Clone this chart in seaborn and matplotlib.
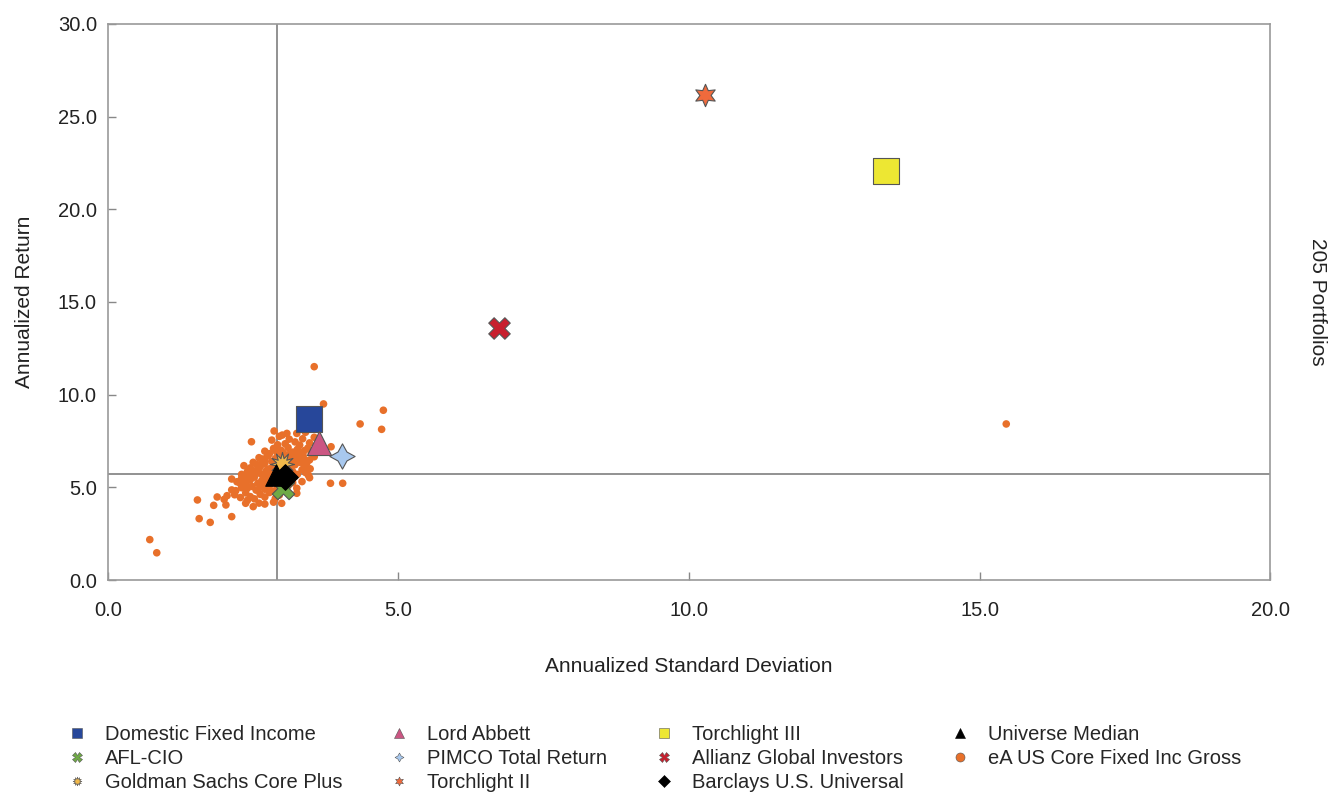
import matplotlib
matplotlib.use('Agg')
import matplotlib.pyplot as plt
from matplotlib.lines import Line2D
import seaborn as sns
import pandas as pd

sns.set_theme(style="white")
plt.rcParams['font.family'] = ['Liberation Sans', 'DejaVu Sans']

# eA US Core Fixed Inc Gross universe (annualized std dev, annualized return)
universe_sd = [
    2.86, 3.00, 3.08, 3.25, 3.40, 2.95,
    2.47, 2.82, 3.12, 3.22, 3.35, 3.47, 3.05, 2.92, 3.30, 3.55,
    2.70, 2.85, 2.98, 3.10, 3.18, 3.26, 3.38, 3.50, 3.60, 3.84, 2.78, 3.02, 3.32, 3.44, 2.90,
    2.60, 2.67, 2.75, 2.88, 2.95, 3.05, 3.15, 3.22, 3.30, 3.40, 3.47, 3.55, 2.82, 3.12, 3.36, 2.70, 3.00, 3.25,
    2.34, 2.45, 2.55, 2.62, 2.70, 2.78, 2.85, 2.92, 3.00, 3.08, 3.15, 3.22, 3.30, 3.38, 3.48, 2.50, 2.65, 3.18, 2.95, 3.42, 2.58,
    2.30, 2.40, 2.48, 2.55, 2.62, 2.68, 2.74, 2.80, 2.88, 2.96, 3.04, 3.10, 3.18, 3.26, 3.34, 3.45, 2.52, 2.84, 3.22, 2.36, 3.40,
    2.13, 2.22, 2.30, 2.38, 2.45, 2.52, 2.58, 2.65, 2.72, 2.80, 2.88, 2.95, 3.02, 3.10, 3.18, 3.34, 3.47, 3.83, 4.04, 2.42, 2.75, 3.05, 2.28,
    2.13, 2.20, 2.34, 2.40, 2.48, 2.55, 2.62, 2.70, 2.78, 2.85, 2.92, 3.00, 3.10, 3.25, 2.30, 2.66,
    2.05, 2.18, 2.28, 2.37, 2.45, 2.52, 2.62, 2.70, 2.78, 2.88, 2.95, 3.25, 1.54, 1.88, 2.00, 2.40,
    2.37, 2.50, 2.70, 2.99, 1.82, 2.03, 2.60, 2.85, 1.57, 1.76, 2.13, 0.72, 0.84,
    3.55, 3.71, 4.74, 4.71, 4.34, 15.46,
    2.88, 2.92, 2.98, 3.02, 3.08, 2.86, 2.94, 3.00, 3.06, 3.12, 2.82, 2.76, 3.14, 2.90, 3.04, 2.98, 3.10, 2.84, 2.72, 3.16,
]
universe_ret = [
    8.04, 7.82, 7.91, 7.91, 7.97, 7.75,
    7.46, 7.55, 7.60, 7.45, 7.62, 7.40, 7.35, 7.30, 7.28, 7.70,
    6.95, 7.10, 7.00, 7.15, 6.90, 7.05, 6.98, 6.85, 7.10, 7.19, 6.82, 6.85, 6.80, 7.12, 6.92,
    6.60, 6.53, 6.70, 6.55, 6.45, 6.65, 6.50, 6.72, 6.58, 6.45, 6.48, 6.65, 6.40, 6.78, 6.70, 6.45, 6.75, 6.42,
    6.17, 6.05, 6.25, 6.10, 6.30, 6.00, 6.20, 6.35, 6.10, 6.28, 6.05, 6.22, 6.35, 6.12, 6.00, 6.35, 6.38, 6.38, 6.02, 6.30, 6.00,
    5.70, 5.85, 5.65, 5.90, 5.75, 5.60, 5.95, 5.80, 5.65, 5.92, 5.75, 5.62, 5.85, 5.70, 5.95, 5.65, 5.78, 5.98, 5.60, 5.62, 5.80,
    5.45, 5.30, 5.50, 5.25, 5.40, 5.55, 5.22, 5.38, 5.50, 5.28, 5.45, 5.20, 5.35, 5.50, 5.25, 5.31, 5.52, 5.22, 5.22, 5.58, 5.20, 5.55, 5.20,
    4.86, 4.82, 5.13, 4.95, 5.05, 4.85, 5.00, 4.90, 5.10, 4.80, 5.02, 4.88, 5.08, 4.95, 4.98, 5.15,
    4.55, 4.60, 4.45, 4.70, 4.50, 4.38, 4.62, 4.48, 4.72, 4.40, 4.58, 4.68, 4.32, 4.48, 4.35, 4.30,
    4.14, 3.96, 4.10, 4.14, 4.03, 4.05, 4.15, 4.20, 3.31, 3.11, 3.42, 2.18, 1.47,
    11.51, 9.50, 9.16, 8.13, 8.42, 8.42,
    5.85, 5.72, 5.60, 5.90, 5.80, 5.55, 5.48, 5.40, 5.68, 5.95, 5.68, 5.45, 6.15, 6.12, 6.22, 5.30, 5.38, 6.08, 5.85, 5.72,
]

# managers / benchmarks
names = ["Domestic Fixed Income", "AFL-CIO", "Goldman Sachs Core Plus",
         "Lord Abbett", "PIMCO Total Return", "Torchlight II",
         "Torchlight III", "Allianz Global Investors", "Barclays U.S. Universal",
         "Universe Median"]
mgr_sd = [3.46, 3.01, 2.99, 3.64, 4.03, 10.28, 13.39, 6.73, 3.05, 2.90]
mgr_ret = [8.67, 4.95, 6.24, 7.41, 6.69, 26.18, 22.07, 13.61, 5.58, 5.67]
mgr_colors = ["#27479A", "#6FAA45", "#F2B94A", "#CB5683", "#A8C8EE", "#F06A3C",
              "#EDE733", "#C8202F", "#000000", "#000000"]
mgr_markers = ["s", "X", (12, 1, 0), "^", (4, 1, 0), (6, 1, 0), "s", "X", "D", "^"]
mgr_sizes = [330, 260, 300, 300, 330, 260, 330, 240, 170, 240]

median_sd = 2.91
median_ret = 5.72
dot_color = "#E8702A"

fig = plt.figure(figsize=(13.31, 7.94), dpi=100)
ax = fig.add_axes([0.0811, 0.2695, 0.8731, 0.7003])

ax.axvline(median_sd, color="#7f7f7f", lw=1.2, zorder=1)
ax.axhline(median_ret, color="#7f7f7f", lw=1.2, zorder=1)

uni = pd.DataFrame({"sd": universe_sd, "ret": universe_ret})
sns.scatterplot(data=uni, x="sd", y="ret", ax=ax, color=dot_color, s=30,
                edgecolor="none", zorder=2)

# draw order so small marks stay visible in the cluster
draw_order = [0, 3, 4, 5, 6, 7, 1, 9, 8, 2]
for i in draw_order:
    sns.scatterplot(x=[mgr_sd[i]], y=[mgr_ret[i]], ax=ax, marker=mgr_markers[i],
                    color=mgr_colors[i], s=mgr_sizes[i],
                    edgecolor="#555555" if mgr_colors[i] != "#000000" else "#000000",
                    linewidth=0.8, zorder=3 + i * 0.01)

ax.set_xlim(0, 20)
ax.set_ylim(0, 30)
ax.set_xticks([0, 5, 10, 15, 20])
ax.set_yticks([0, 5, 10, 15, 20, 25, 30])
ax.set_xticklabels([f"{v:.1f}" for v in [0, 5, 10, 15, 20]])
ax.set_yticklabels([f"{v:.1f}" for v in [0, 5, 10, 15, 20, 25, 30]])
ax.tick_params(axis="both", direction="in", length=6, width=1, color="#888888",
               labelsize=14.5, colors="#222222", pad=8, left=True, bottom=True)
ax.tick_params(axis="x", pad=15)
for sp in ax.spines.values():
    sp.set_color("#999999")
    sp.set_linewidth(1.2)

ax.set_xlabel("Annualized Standard Deviation", fontsize=15, color="#222222", labelpad=27)
ax.set_ylabel("Annualized Return", fontsize=15, color="#222222", labelpad=17)
fig.text(0.99, 0.62, "205 Portfolios", rotation=270, fontsize=15, color="#222222",
         ha="center", va="center")

# legend
leg_names = names + ["eA US Core Fixed Inc Gross"]
leg_markers = ["s", "X", (12, 1, 0), "^", (4, 1, 0), (6, 1, 0), "s", "X", "D", "^", "o"]
leg_colors = mgr_colors + [dot_color]
handles = []
for n, m, c in zip(leg_names, leg_markers, leg_colors):
    handles.append(Line2D([0], [0], linestyle="none", marker=m, markersize=6.5,
                          markerfacecolor=c, markeredgecolor="#555555" if c != "#000000" else c,
                          markeredgewidth=0.4))
fig.legend(handles, leg_names, ncol=4, loc="upper left", bbox_to_anchor=(0.051, 0.087),
           frameon=False, fontsize=14.5, handlelength=0.9, handletextpad=0.95,
           columnspacing=2.35, labelspacing=0.24, borderpad=0, borderaxespad=0)

fig.savefig("out.png", dpi=100)
